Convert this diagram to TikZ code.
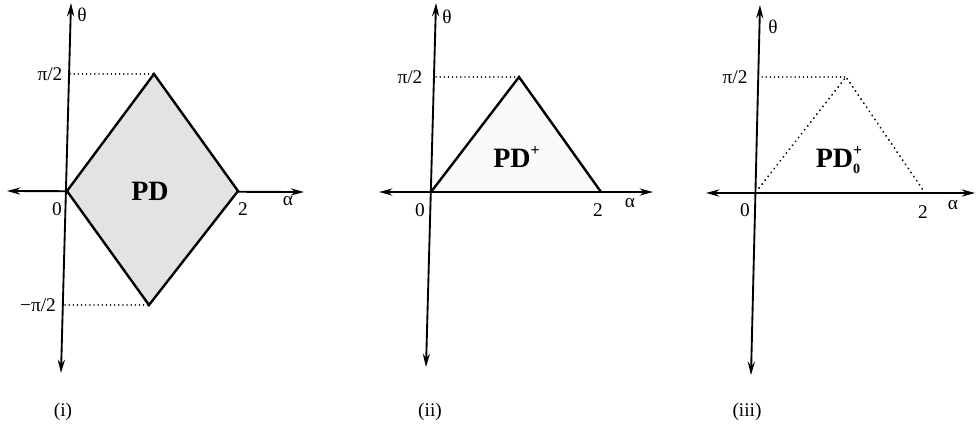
\documentclass[tikz,border=0pt]{standalone}
\usepackage{fontspec}
\setmainfont{Liberation Serif}
\usetikzlibrary{arrows.meta}
\newcommand{\plusup}{\makebox[0pt][l]{\raisebox{9pt}{\fontsize{12}{12}\selectfont\bfseries +}}}
\newcommand{\zerodown}{\raisebox{-5pt}{\fontsize{10.5}{10.5}\selectfont\bfseries 0}}
\begin{document}
\begin{tikzpicture}[x=0.75pt,y=-0.75pt,
  axis/.style={line width=1.4pt,{Stealth[length=10pt,width=5.4pt]}-{Stealth[length=10pt,width=5.4pt]}},
  edgeline/.style={line width=1.8pt,line join=miter},
  guide/.style={line width=1pt,line cap=round,dash pattern=on 0.1pt off 3pt},
  dotedge/.style={line width=1.5pt,line cap=round,dash pattern=on 0.1pt off 3.6pt},
  lbl/.style={font=\fontsize{14.5}{16}\selectfont,inner sep=0pt},
  region/.style={font=\fontsize{21}{23}\selectfont\bfseries,inner sep=0pt}]
\useasboundingbox (0,0) rectangle (977,430);

% ---------- panel (i) ----------
\coordinate (a1t) at (71,3);
\coordinate (a1b) at (61,373);
\coordinate (a1l) at (7,191);
\coordinate (a1r) at (304,192);
\coordinate (o1) at (67,191);
\coordinate (t1) at (154,74);
\coordinate (r1) at (238,191);
\coordinate (b1) at (149,305);
\coordinate (g1t) at (70,74);
\coordinate (g1b) at (65,305);
\draw[axis] (a1l) -- (a1r);
\fill[black!11] (o1) -- (t1) -- (r1) -- (b1) -- cycle;
\draw[edgeline] (o1) -- (t1) -- (r1) -- (b1) -- cycle;
\draw[guide] (g1t) -- (t1);
\draw[guide] (g1b) -- (b1);
\draw[axis] (a1b) -- (a1t);
\node[lbl] (th1) at (82,15) {θ};
\node[lbl] (p1) at (50,74) {π/2};
\node[lbl] (m1) at (38,305) {−π/2};
\node[lbl] (z1) at (57,209) {0};
\node[lbl] (two1) at (243,209) {2};
\node[lbl] (al1) at (288,201) {α};
\node[region] (pd1) at (150,191) {PD};
\node[lbl] (cap1) at (63,412) {(i)};

% ---------- panel (ii) ----------
\coordinate (a2t) at (436,3);
\coordinate (a2b) at (426,367);
\coordinate (a2l) at (379,192);
\coordinate (a2r) at (653,192);
\coordinate (o2) at (431,192);
\coordinate (t2) at (519,77);
\coordinate (r2) at (601,192);
\coordinate (g2t) at (436,77);
\fill[black!2] (o2) -- (t2) -- (r2) -- cycle;
\draw[edgeline] (o2) -- (t2) -- (r2);
\draw[guide] (g2t) -- (t2);
\draw[axis] (a2b) -- (a2t);
\draw[axis] (a2l) -- (a2r);
\node[lbl] (th2) at (447,17) {θ};
\node[lbl] (p2) at (410,77) {π/2};
\node[lbl] (z2) at (420,210) {0};
\node[lbl] (two2) at (598,210) {2};
\node[lbl] (al2) at (630,203) {α};
\node[region] (pd2) at (512,157) {PD\plusup\hspace{7pt}};
\node[lbl] (cap2) at (430,412) {(ii)};

% ---------- panel (iii) ----------
\coordinate (a3t) at (760,5);
\coordinate (a3b) at (751,375);
\coordinate (a3l) at (706,193);
\coordinate (a3r) at (975,193);
\coordinate (o3) at (759,188);
\coordinate (t3) at (846,77);
\coordinate (r3) at (923,190);
\coordinate (g3t) at (762,77);
\draw[dotedge] (o3) -- (t3) -- (r3);
\draw[guide] (g3t) -- (t3);
\draw[axis] (a3b) -- (a3t);
\draw[axis] (a3l) -- (a3r);
\node[lbl] (th3) at (773,27) {θ};
\node[lbl] (p3) at (735,77) {π/2};
\node[lbl] (z3) at (745,210) {0};
\node[lbl] (two3) at (923,212) {2};
\node[lbl] (al3) at (953,205) {α};
\node[region] (pd3) at (838,160) {PD\plusup\zerodown};
\node[lbl] (cap3) at (747,412) {(iii)};
\end{tikzpicture}
\end{document}
